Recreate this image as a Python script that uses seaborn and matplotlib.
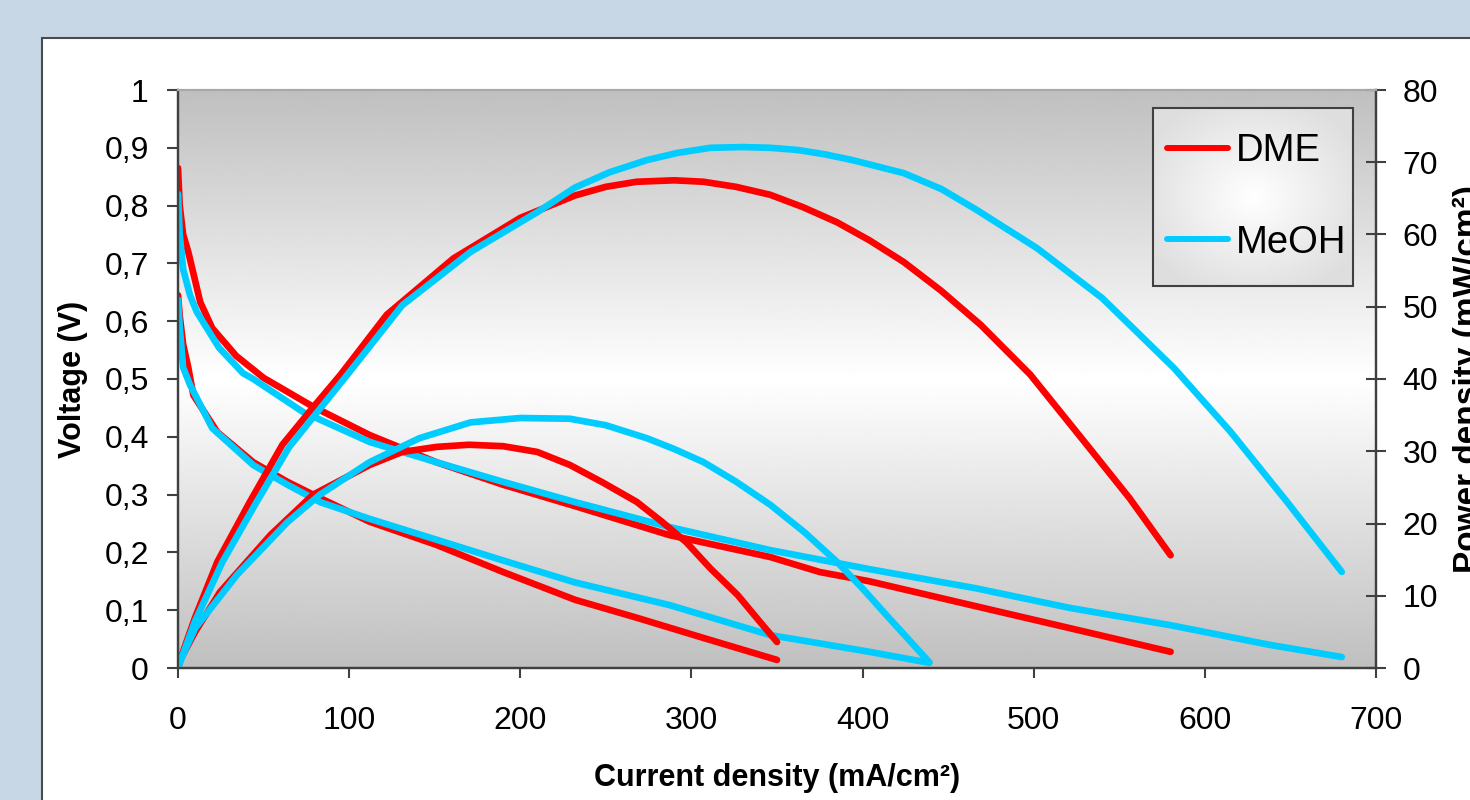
import numpy as np
import pandas as pd
import seaborn as sns
import matplotlib.pyplot as plt
from matplotlib.patches import Rectangle
from matplotlib.lines import Line2D

# values
# run "a" = the high-power run (ends at 580 / 680 mA/cm2), run "b" = the low one

# voltage (V) vs current density (mA/cm2)
dme_a_v_x = [0, 1, 3, 6, 13, 20, 34, 50, 79, 112, 151, 190, 232, 287, 346, 375, 404, 466, 521, 580]
dme_a_v = [0.865, 0.80, 0.75, 0.72, 0.633, 0.588, 0.54, 0.502, 0.452, 0.403, 0.356, 0.317, 0.28,
           0.230, 0.192, 0.166, 0.150, 0.107, 0.069, 0.028]
meoh_a_v_x = [0, 1, 3, 7, 11, 24, 38, 44, 73, 112, 151, 190, 232, 287, 346, 404, 466, 521, 580, 638, 680]
meoh_a_v = [0.82, 0.75, 0.69, 0.645, 0.616, 0.554, 0.51, 0.50, 0.443, 0.391, 0.356, 0.322, 0.287,
            0.244, 0.204, 0.171, 0.138, 0.104, 0.074, 0.040, 0.019]
dme_b_v_x = [0, 1, 3, 6, 9, 23, 44, 64, 83, 112, 151, 190, 232, 268, 307, 350]
dme_b_v = [0.645, 0.61, 0.56, 0.52, 0.472, 0.408, 0.356, 0.322, 0.294, 0.253, 0.213, 0.166, 0.118,
           0.087, 0.052, 0.014]
meoh_b_v_x = [0, 1, 3, 7, 20, 44, 64, 83, 112, 151, 190, 232, 287, 346, 404, 439]
meoh_b_v = [0.637, 0.59, 0.52, 0.49, 0.415, 0.351, 0.317, 0.287, 0.258, 0.222, 0.186, 0.148, 0.109,
            0.057, 0.028, 0.009]

# power density (mW/cm2) vs current density (mA/cm2)
dme_a_p_x = [0, 3, 10, 23, 42, 61, 79, 95, 122, 161, 200, 232, 250, 268, 290, 307, 326, 346, 365,
             385, 404, 424, 446, 469, 498, 531, 556, 580]
dme_a_p = [0, 2.3, 7, 14.7, 23, 30.9, 36.1, 40.6, 48.9, 56.7, 62.3, 65.4, 66.6, 67.3, 67.5, 67.3,
           66.6, 65.5, 63.8, 61.7, 59.2, 56.2, 52.2, 47.5, 40.6, 30.9, 23.5, 15.6]
meoh_a_p_x = [0, 3, 10, 26, 46, 65, 99, 131, 171, 210, 232, 252, 274, 292, 311, 330, 346, 362, 378,
              394, 424, 446, 466, 502, 540, 582, 615, 648, 680]
meoh_a_p = [0, 2, 6.5, 14.7, 23, 30.6, 40.6, 50.2, 57.6, 63.1, 66.5, 68.6, 70.3, 71.3, 72.0, 72.1,
            72.0, 71.7, 71.1, 70.3, 68.5, 66.3, 63.5, 58.1, 51.2, 41.5, 32.7, 23, 13.3]
dme_b_p_x = [0, 1, 10, 24.5, 54, 79, 112, 131, 151, 170, 190, 210, 229, 248, 268, 283, 297, 311,
             327, 340, 350]
dme_b_p = [0, 1, 5, 10.5, 18.4, 24, 28.1, 29.9, 30.6, 30.9, 30.7, 29.9, 28.1, 25.7, 23, 20.2, 17.4,
           13.8, 10.1, 6.4, 3.6]
meoh_b_p_x = [0, 1, 10, 34.5, 64, 83, 112, 141, 171, 200, 229, 250, 274, 290, 307, 326, 346, 366,
              385, 400, 414, 439]
meoh_b_p = [0, 0.8, 5.5, 12.9, 20.2, 24, 28.5, 31.8, 34.0, 34.6, 34.5, 33.6, 31.8, 30.3, 28.5, 25.8,
            22.6, 18.8, 14.7, 11.0, 7.3, 0.8]

fuels = ["DME", "MeOH"]
fuel_colors = {"DME": "#ff0000", "MeOH": "#00ccff"}

x_ticks = [0, 100, 200, 300, 400, 500, 600, 700]
v_ticks = [0, 0.1, 0.2, 0.3, 0.4, 0.5, 0.6, 0.7, 0.8, 0.9, 1]
v_tick_labels = ["0", "0,1", "0,2", "0,3", "0,4", "0,5", "0,6", "0,7", "0,8", "0,9", "1"]
p_ticks = [0, 10, 20, 30, 40, 50, 60, 70, 80]


def long_frame(curves):
    parts = []
    for fuel, run, x, y in curves:
        parts.append(pd.DataFrame({"current": x, "value": y, "fuel": fuel, "run": fuel + run}))
    return pd.concat(parts, ignore_index=True)


df_v = long_frame([("DME", "a", dme_a_v_x, dme_a_v), ("DME", "b", dme_b_v_x, dme_b_v),
                   ("MeOH", "a", meoh_a_v_x, meoh_a_v), ("MeOH", "b", meoh_b_v_x, meoh_b_v)])
df_p = long_frame([("DME", "a", dme_a_p_x, dme_a_p), ("DME", "b", dme_b_p_x, dme_b_p),
                   ("MeOH", "a", meoh_a_p_x, meoh_a_p), ("MeOH", "b", meoh_b_p_x, meoh_b_p)])

sns.set_style("ticks")
plt.rcParams['font.family'] = ['Liberation Sans', 'DejaVu Sans']
plt.rcParams['text.color'] = 'black'
plt.rcParams['axes.labelcolor'] = 'black'

fig = plt.figure(figsize=(14.7, 8), dpi=100)
fig.patch.set_facecolor("#c8d7e6")
# white chart panel with its dark border on the left / top
fig.add_artist(Rectangle((42 / 1470, -0.05), 1.0, (800 - 38) / 800 + 0.05, transform=fig.transFigure,
                         facecolor="white", edgecolor="#4a4a4a", lw=1.5, zorder=-1))

ax = fig.add_axes([178 / 1470, 132 / 800, 1198 / 1470, 578 / 800])
ax2 = ax.twinx()

# gray -> white -> gray background gradient
g = np.linspace(0, 1, 256)
shade = 1 - 0.25 * np.abs(g - 0.5) / 0.5
ax.patch.set_visible(False)
ax.imshow(shade[:, None], cmap="gray", vmin=0, vmax=1, origin="lower", aspect="auto",
          extent=(0, 1, 0, 1), transform=ax.transAxes, zorder=0)

sns.lineplot(data=df_v, x="current", y="value", hue="fuel", units="run", estimator=None,
             sort=False, hue_order=fuels, palette=fuel_colors, lw=4.8, legend=False, ax=ax)
sns.lineplot(data=df_p, x="current", y="value", hue="fuel", units="run", estimator=None,
             sort=False, hue_order=fuels, palette=fuel_colors, lw=4.8, legend=False, ax=ax2)

# legend box: radial light-gray gradient with a dark border
lx0, lx1 = (1153 - 178) / 1198, (1353 - 178) / 1198
ly0, ly1 = (668 - 286) / 578, (668 - 108) / 578
gx, gy = np.meshgrid(np.linspace(-1, 1, 120), np.linspace(-1, 1, 120))
radial = 1 - 0.13 * np.clip(np.hypot(gx, gy), 0, 1.2) / 1.2
ax2.imshow(radial, cmap="gray", vmin=0, vmax=1, aspect="auto", extent=(lx0, lx1, ly0, ly1),
           transform=ax2.transAxes, zorder=4)
ax2.add_patch(Rectangle((lx0, ly0), lx1 - lx0, ly1 - ly0, transform=ax2.transAxes,
                        facecolor="none", edgecolor="#404040", lw=1.5, zorder=4.5))

ax.set_xlim(0, 700)
ax.set_ylim(0, 1)
ax2.set_ylim(0, 80)
ax.set_xticks(x_ticks)
ax.set_yticks(v_ticks)
ax.set_yticklabels(v_tick_labels)
ax2.set_yticks(p_ticks)

ax.tick_params(axis="y", direction="out", length=8, width=1.5, pad=13, labelsize=23,
               color="#404040", labelcolor="black")
ax.tick_params(axis="x", direction="out", length=7.5, width=1.5, pad=20, labelsize=23,
               color="#404040", labelcolor="black")
ax2.tick_params(axis="y", direction="inout", length=14.5, width=1.5, pad=12, labelsize=23,
                color="#404040", labelcolor="black")

for a in (ax, ax2):
    for side in ("left", "bottom", "right"):
        a.spines[side].set_color("#404040")
        a.spines[side].set_linewidth(1.6)
    a.spines["top"].set_color("#a8a8a8")
    a.spines["top"].set_linewidth(1.5)

ax.set_xlabel("Current density (mA/cm²)", fontsize=22, fontweight="bold")
ax.set_ylabel("Voltage (V)", fontsize=22, fontweight="bold")
ax2.set_ylabel("Power density (mW/cm²)", fontsize=24, fontweight="bold")
ax.xaxis.set_label_coords(0.5, -0.165)
ax.yaxis.set_label_coords(-0.075, 0.5)
ax2.yaxis.set_label_coords(1.064, 0.5)

handles = [Line2D([], [], color=fuel_colors[f], lw=4.3) for f in fuels]
leg = ax2.legend(handles, fuels, loc="center", bbox_to_anchor=((lx0 + lx1) / 2 + 0.003, (ly0 + ly1) / 2),
                 frameon=False, fontsize=27.5, handlelength=1.6, handletextpad=0.22,
                 labelspacing=1.45, borderpad=0.2, borderaxespad=0)
leg.set_zorder(5)

fig.savefig("out.png", dpi=100)
